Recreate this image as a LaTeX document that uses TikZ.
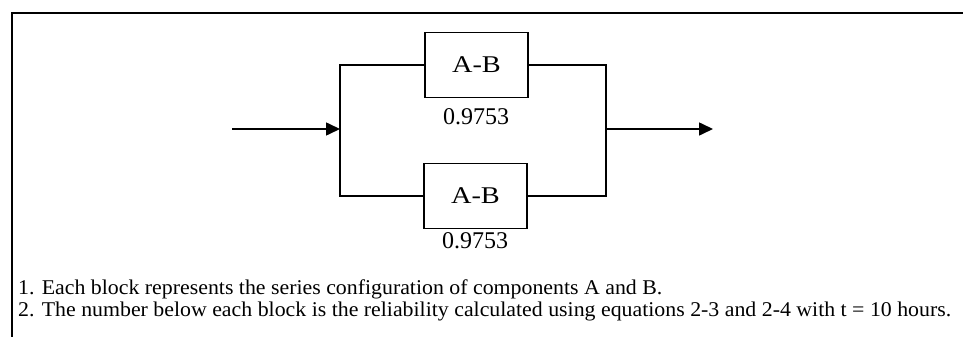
\documentclass[tikz,border=0pt]{standalone}
\usepackage{fontspec}
\setmainfont{Liberation Serif}
\usetikzlibrary{arrows.meta}
\newcommand{\blocklabel}[1]{\scalebox{1.18}[1]{#1}}
\newcommand{\notetext}[1]{\scalebox{1.04}[1]{#1}}
\begin{document}
\begin{tikzpicture}[x=1pt,y=-1pt,
  wire/.style={line width=1.6pt},
  flow/.style={wire,-{Triangle[length=14pt,width=13pt]}},
  block/.style={draw,line width=1.6pt,minimum width=103pt,minimum height=65pt,inner sep=0pt,font=\fontsize{24}{27}\selectfont},
  rel/.style={inner sep=0pt,font=\fontsize{24}{27}\selectfont},
  note/.style={anchor=base west,inner sep=0pt,text height=14pt,text depth=4pt,font=\fontsize{21}{24}\selectfont}]
  \useasboundingbox (0,0) rectangle (963,337);
  % open frame: top and left edges only
  \draw[line width=2pt] (963,13) -- (12,13) -- (12,337);

  % the two parallel blocks and their reliabilities
  \node[block] (top) at (476.5,65) {\blocklabel{A-B}};
  \node[block] (bot) at (475.5,196) {\blocklabel{A-B}};
  \node[rel] (rtop) at (476,116.5) {0.9753};
  \node[rel] (rbot) at (475,241) {0.9753};

  % bus points
  \coordinate (lt) at (340,65);
  \coordinate (lb) at (340,196);
  \coordinate (lm) at (340,129);
  \coordinate (rt) at (606,65);
  \coordinate (rb) at (606,196);
  \coordinate (rm) at (606,129);
  \coordinate (in) at (232,129);
  \coordinate (out) at (713,129);

  \draw[wire] (top.west) -- (lt) -- (lb) -- (bot.west);
  \draw[wire] (top.east) -- (rt) -- (rb) -- (bot.east);
  \draw[flow] (in) -- (lm);
  \draw[flow] (rm) -- (out);

  % notes
  \node[note] (n1) at (18,294) {\notetext{1. Each block represents the series configuration of components A and B.}};
  \node[note] (n2) at (18,316) {\notetext{2. The number below each block is the reliability calculated using equations 2-3 and 2-4 with t = 10 hours.}};
\end{tikzpicture}
\end{document}
